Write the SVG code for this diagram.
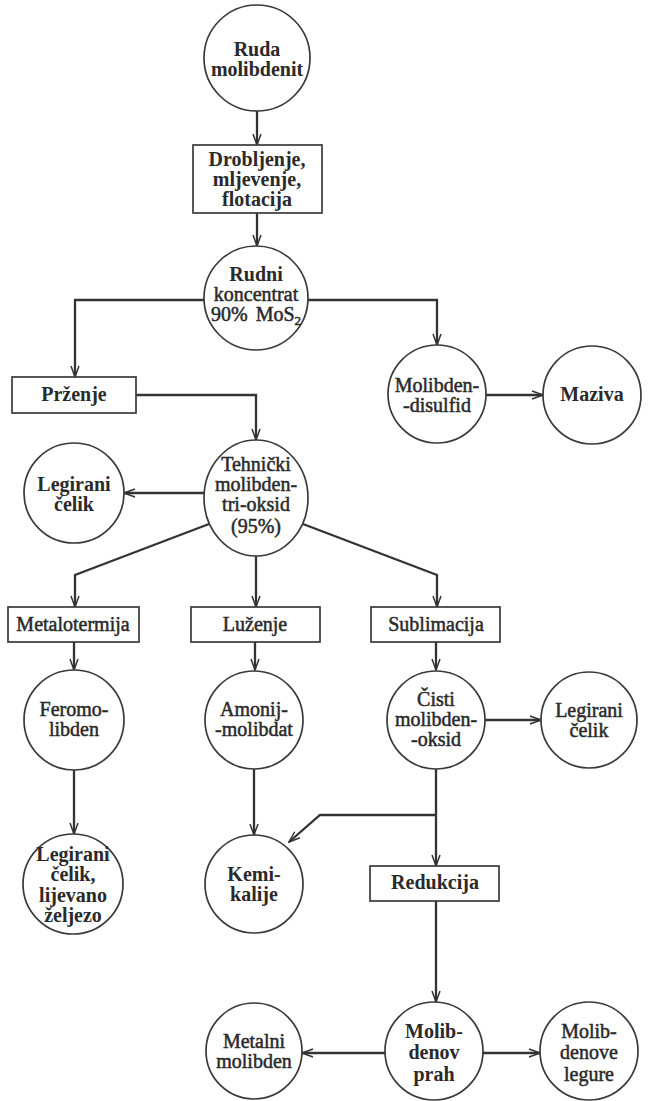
<svg xmlns="http://www.w3.org/2000/svg" width="650" height="1101" viewBox="0 0 650 1101">
<defs>
<marker id="arr" markerUnits="userSpaceOnUse" markerWidth="13" markerHeight="10" refX="12" refY="5" orient="auto">
<path d="M1,1 L12,5 L1,9" fill="none" stroke="#333" stroke-width="1.5"/>
</marker>
<style>
.n{fill:#fff;stroke:#3a3a3a;stroke-width:1.7}
.c{fill:none;stroke:#333;stroke-width:2.3;marker-end:url(#arr)}
text{font-family:"Liberation Serif","Times New Roman",serif;font-size:20px;fill:#2a2a2a;text-anchor:middle}
.b{font-weight:bold}
.r{stroke:#2a2a2a;stroke-width:0.5}
</style>
</defs>
<rect width="650" height="1101" fill="#fff"/>
<g id="connectors">
<path class="c" d="M257,111 V145"/>
<path class="c" d="M257,213 V246"/>
<path class="c" d="M204,300 H75 V377"/>
<path class="c" d="M308,300 H437 V345"/>
<path class="c" d="M486,395 H543"/>
<path class="c" d="M136,395 H256 V440"/>
<path class="c" d="M204,493 H124"/>
<path class="c" d="M209,524 L75,575 V607"/>
<path class="c" d="M256,556 V607"/>
<path class="c" d="M303,524 L437,575 V607"/>
<path class="c" d="M74,642 V670"/>
<path class="c" d="M255,642 V670"/>
<path class="c" d="M436,642 V670"/>
<path class="c" d="M485,720 H541"/>
<path class="c" d="M74,770 V834"/>
<path class="c" d="M254,769 V835"/>
<path class="c" d="M436,769 V866"/>
<path class="c" d="M436,815 H320 L289,842"/>
<path class="c" d="M436,901 V1002"/>
<path class="c" d="M385,1053 H302"/>
<path class="c" d="M483,1053 H540"/>
</g>
<g id="ruda"><circle class="n" cx="257" cy="58" r="53"/><text class="b" x="257" y="56">Ruda</text><text class="b" x="257" y="76">molibdenit</text></g>
<g id="drobljenje"><rect class="n" x="193" y="145" width="129" height="68"/><text class="b" x="257" y="166">Drobljenje,</text><text class="b" x="257" y="186">mljevenje,</text><text class="b" x="257" y="206">flotacija</text></g>
<g id="rudni"><circle class="n" cx="256" cy="298" r="52"/><text class="b" x="256" y="281">Rudni</text><text class="r" x="256" y="301">koncentrat</text><text class="r" x="256" y="321">90%<tspan dx="8">MoS</tspan><tspan font-size="13" dy="4">2</tspan></text></g>
<g id="przenje"><rect class="n" x="12" y="377" width="124" height="36"/><text class="b" x="74" y="401">Prženje</text></g>
<g id="disulfid"><circle class="n" cx="437" cy="394" r="49"/><text class="r" x="437" y="392">Molibden-</text><text class="r" x="437" y="412">-disulfid</text></g>
<g id="maziva"><circle class="n" cx="592" cy="395" r="49"/><text class="b" x="592" y="401">Maziva</text></g>
<g id="tehnicki"><ellipse class="n" cx="256" cy="498" rx="52" ry="58"/><text class="r" x="256" y="471">Tehnički</text><text class="r" x="256" y="491">molibden-</text><text class="r" x="256" y="511">tri-oksid</text><text class="r" x="256" y="533">(95%)</text></g>
<g id="legirani1"><circle class="n" cx="74" cy="493" r="50"/><text class="b" x="74" y="491">Legirani</text><text class="b" x="74" y="511">čelik</text></g>
<g id="metalotermija"><rect class="n" x="8" y="607" width="131" height="35"/><text class="r" x="73" y="631">Metalotermija</text></g>
<g id="luzenje"><rect class="n" x="191" y="607" width="129" height="35"/><text class="r" x="255" y="631">Luženje</text></g>
<g id="sublimacija"><rect class="n" x="371" y="607" width="129" height="35"/><text class="r" x="436" y="631">Sublimacija</text></g>
<g id="feromolibden"><circle class="n" cx="74" cy="720" r="50"/><text class="r" x="74" y="716">Feromo-</text><text class="r" x="74" y="736">libden</text></g>
<g id="amonij"><circle class="n" cx="254" cy="720" r="49"/><text class="r" x="254" y="716">Amonij-</text><text class="r" x="254" y="736">-molibdat</text></g>
<g id="cisti"><circle class="n" cx="436" cy="720" r="49"/><text class="r" x="436" y="706">Čisti</text><text class="r" x="436" y="726">molibden-</text><text class="r" x="436" y="746">-oksid</text></g>
<g id="legirani2"><circle class="n" cx="589" cy="720" r="48"/><text class="r" x="589" y="717">Legirani</text><text class="r" x="589" y="737">čelik</text></g>
<g id="legirani3"><circle class="n" cx="73" cy="884" r="50"/><text class="b" x="73" y="861">Legirani</text><text class="b" x="73" y="881">čelik,</text><text class="b" x="73" y="902">lijevano</text><text class="b" x="73" y="922">željezo</text></g>
<g id="kemikalije"><circle class="n" cx="254" cy="884" r="49"/><text class="b" x="254" y="881">Kemi-</text><text class="b" x="254" y="901">kalije</text></g>
<g id="redukcija"><rect class="n" x="370" y="866" width="129" height="35"/><text class="b" x="435" y="889">Redukcija</text></g>
<g id="molibdenovprah"><circle class="n" cx="434" cy="1051" r="49"/><text class="b" x="434" y="1038">Molib-</text><text class="b" x="434" y="1059">denov</text><text class="b" x="434" y="1081">prah</text></g>
<g id="metalni"><circle class="n" cx="254" cy="1051" r="48"/><text class="r" x="254" y="1048">Metalni</text><text class="r" x="254" y="1068">molibden</text></g>
<g id="legure"><circle class="n" cx="589" cy="1051" r="49"/><text class="r" x="589" y="1038">Molib-</text><text class="r" x="589" y="1059">denove</text><text class="r" x="589" y="1081">legure</text></g>
</svg>
